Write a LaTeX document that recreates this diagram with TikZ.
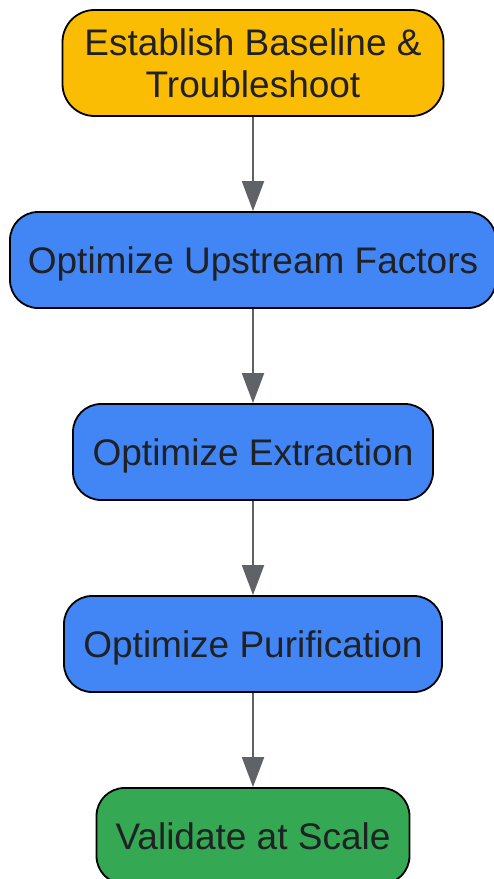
\documentclass[tikz,border=0pt]{standalone}
\usepackage{fontspec}
\setmainfont{Liberation Sans}
\usetikzlibrary{arrows.meta}
\definecolor{stepgold}{HTML}{FBBC04}
\definecolor{stepblue}{HTML}{4285F4}
\definecolor{stepgreen}{HTML}{34A853}
\definecolor{linkgray}{HTML}{5F6368}
\definecolor{inkgray}{HTML}{202124}
\begin{document}
\begin{tikzpicture}[x=1pt,y=-1pt,
	stepbox/.style={draw=black, line width=1.8pt, rounded corners=28pt, inner sep=0pt,
		minimum height=96pt, text depth=0pt, text=inkgray, font=\fontsize{37}{42}\selectfont, align=center},
	link/.style={linkgray, line width=2pt, -{Triangle[length=30pt,width=22pt]}}]
	\useasboundingbox (0,0) rectangle (494,879);

	% the five stages, top to bottom
	\node[stepbox, fill=stepgold, minimum width=381pt, minimum height=106pt, rounded corners=32pt] (baseline) at (253,63) {Establish Baseline \&\\Troubleshoot};
	\node[stepbox, fill=stepblue, minimum width=486pt] (upstream) at (253,260) {Optimize Upstream Factors};
	\node[stepbox, fill=stepblue, minimum width=360pt] (extraction) at (253,452) {Optimize Extraction};
	\node[stepbox, fill=stepblue, minimum width=378pt] (purification) at (253,644) {Optimize Purification};
	\node[stepbox, fill=stepgreen, minimum width=313pt] (scale) at (253,836) {Validate at Scale};

	% connectors
	\draw[link] (baseline) -- (upstream);
	\draw[link] (upstream) -- (extraction);
	\draw[link] (extraction) -- (purification);
	\draw[link] (purification) -- (scale);
\end{tikzpicture}
\end{document}
